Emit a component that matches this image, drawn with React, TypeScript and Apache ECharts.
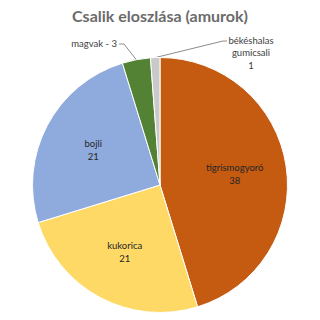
import React, { useEffect, useRef } from "react";
import * as echarts from "echarts";

const title = "Csalik eloszlása (amurok)";
const categories = ["tigrismogyoró", "kukorica", "bojli", "magvak", "békéshalas gumicsali"];
const values = [38, 21, 21, 3, 1];
const colors = ["#C55A11", "#FFD966", "#8FAADC", "#548235", "#C9C9C9"];
const insideLabelled = [true, true, true, false, false];

const FONT = "Lato";

export default function App() {
  const ref = useRef<HTMLDivElement>(null);
  useEffect(() => {
    document.body.style.margin = "0";
    const chart = echarts.init(ref.current!, null, { renderer: "svg" });
    const data = categories.map((name, i) => ({
      name,
      value: values[i],
      itemStyle: { color: colors[i] },
    }));
    chart.setOption({
      animation: false,
      backgroundColor: "#ffffff",
      title: {
        text: title,
        left: "center",
        top: 2,
        textStyle: { fontFamily: FONT, fontSize: 16, fontWeight: "bold", color: "#6b6b6b" },
      },
      series: [
        {
          type: "pie",
          center: [160, 185],
          radius: [0, 127.5],
          startAngle: 90,
          clockwise: true,
          silent: true,
          avoidLabelOverlap: false,
          itemStyle: { borderColor: "#ffffff", borderWidth: 1 },
          labelLine: { show: true, length: 13, length2: 5, lineStyle: { color: "#8c8c8c", width: 1 } },
          label: {
            show: true,
            position: "outside",
            overflow: "none",
            fontFamily: FONT,
            fontSize: 9.5,
            color: "#404040",
            lineHeight: 12.5,
          },
          data: data.map((d, i) => ({
            ...d,
            label: insideLabelled[i]
              ? { show: false }
              : {
                  show: true,
                  formatter: i === 3 ? "{b} - {c}" : (p: any) => p.name.replace(" ", "\n") + "\n" + p.value,
                },
            labelLine: insideLabelled[i] ? { show: false } : { show: true },
          })),
          labelLayout: (p: any) => {
            const pts = p.labelLinePoints;
            const start = pts && pts[0] ? [pts[0][0], pts[0][1]] : [157, 58];
            if (p.dataIndex === 3)
              return {
                x: 117,
                y: 43,
                align: "right",
                verticalAlign: "middle",
                labelLinePoints: [start, [124, 44], [119, 44]],
              };
            if (p.dataIndex === 4)
              return {
                x: 251,
                y: 34,
                align: "center",
                verticalAlign: "top",
                labelLinePoints: [start, [223, 41], [227, 41]],
              };
            return {};
          },
        },
        {
          type: "pie",
          center: [160, 185],
          radius: [0, 145],
          startAngle: 90,
          clockwise: true,
          silent: true,
          itemStyle: { color: "rgba(0,0,0,0)", borderWidth: 0 },
          labelLine: { show: false },
          data: data.map((d, i) => ({
            name: d.name,
            value: d.value,
            itemStyle: { color: "rgba(0,0,0,0)" },
            label: {
              show: insideLabelled[i],
              position: "inside",
              fontFamily: FONT,
              fontSize: 9.5,
              color: "#262626",
              lineHeight: 13,
              formatter: "{b}\n{c}",
            },
          })),
        },
      ],
    });
    return () => chart.dispose();
  }, []);
  return <div ref={ref} style={{ position: "fixed", left: 0, top: 0, width: 320, height: 320 }} />;
}
